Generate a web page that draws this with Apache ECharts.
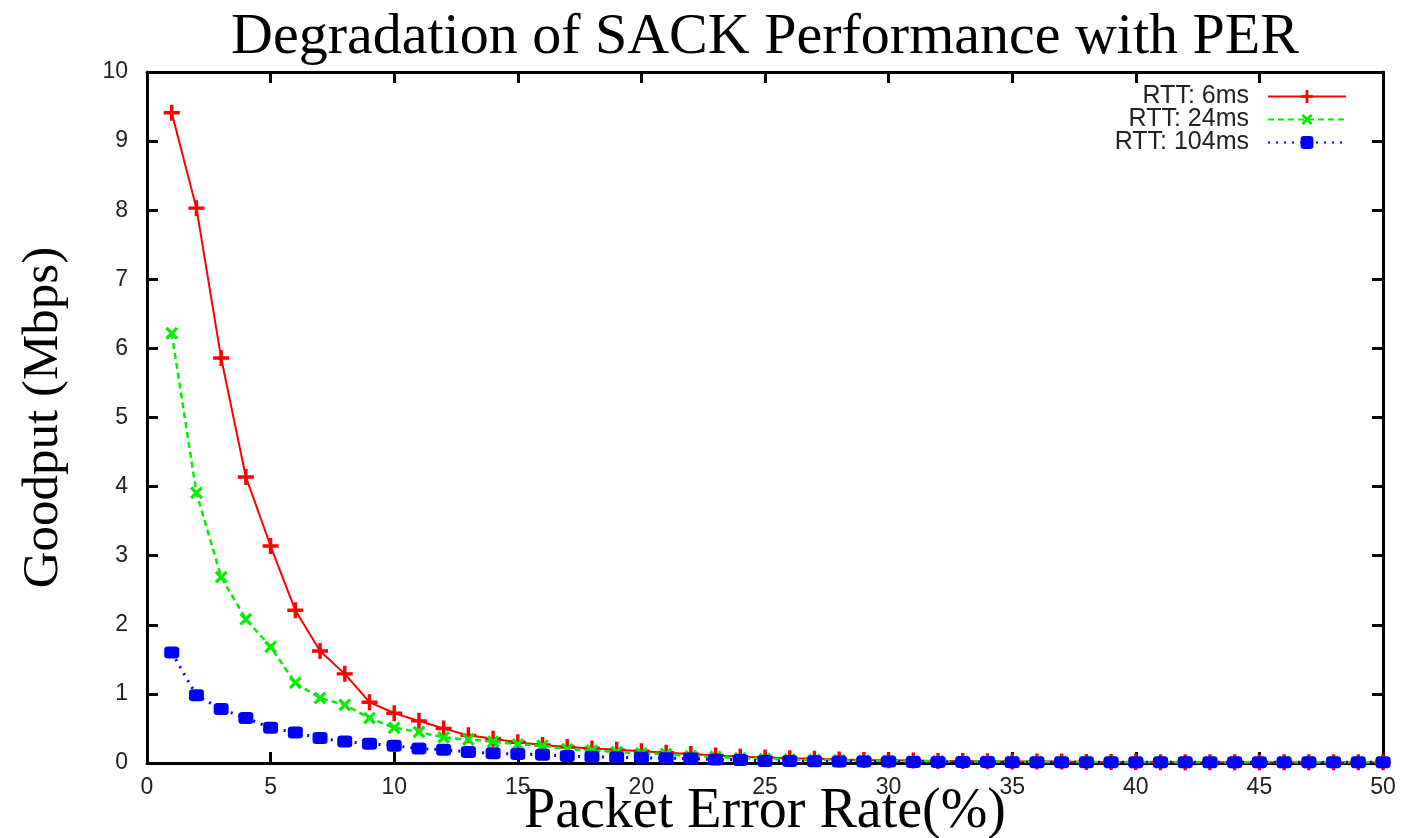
<!DOCTYPE html>
<html>
<head>
<meta charset="utf-8">
<script src="https://cdn.jsdelivr.net/npm/echarts@6/dist/echarts.min.js"></script>
<style>
html,body{margin:0;padding:0;background:#fff;}
#chart{width:1401px;height:838px;}
</style>
</head>
<body>
<div id="chart"></div>
<script>
// Packet error rate (%) values on the x axis
const per = [1,2,3,4,5,6,7,8,9,10,11,12,13,14,15,16,17,18,19,20,21,22,23,24,25,26,27,28,29,30,31,32,33,34,35,36,37,38,39,40,41,42,43,44,45,46,47,48,49,50];
// Goodput (Mbps), RTT 6 ms
const rtt6 = [9.41,8.03,5.86,4.14,3.14,2.21,1.62,1.29,0.88,0.72,0.61,0.50,0.40,0.35,0.30,0.26,0.23,0.21,0.19,0.17,0.15,0.13,0.11,0.09,0.08,0.07,0.06,0.05,0.045,0.04,0.035,0.03,0.03,0.025,0.02,0.02,0.02,0.015,0.015,0.015,0.01,0.01,0.01,0.01,0.01,0.01,0.01,0.01,0.01,0.01];
// Goodput (Mbps), RTT 24 ms
const rtt24 = [6.22,3.91,2.69,2.08,1.68,1.16,0.94,0.84,0.65,0.51,0.45,0.37,0.34,0.31,0.27,0.25,0.20,0.18,0.16,0.14,0.13,0.10,0.09,0.07,0.06,0.05,0.045,0.04,0.035,0.03,0.025,0.025,0.02,0.02,0.02,0.015,0.015,0.015,0.01,0.01,0.01,0.01,0.01,0.01,0.01,0.01,0.01,0.01,0.01,0.01];
// Goodput (Mbps), RTT 104 ms
const rtt104 = [1.60,0.98,0.78,0.65,0.51,0.44,0.36,0.31,0.28,0.25,0.21,0.19,0.16,0.14,0.13,0.12,0.10,0.09,0.085,0.075,0.07,0.065,0.05,0.045,0.03,0.03,0.025,0.02,0.02,0.02,0.015,0.015,0.015,0.015,0.01,0.01,0.01,0.01,0.01,0.01,0.01,0.01,0.01,0.01,0.01,0.01,0.01,0.01,0.01,0.01];

const seriesNames = ['RTT: 6ms','RTT: 24ms','RTT: 104ms'];
const xTicks = {min:0, max:50, interval:5};
const yTicks = {min:0, max:10, interval:1};

const pairs = ys => per.map((x,i)=>[x, ys[i]]);
const plusPath = 'path://M5.5,0H8.5V5.5H14V8.5H8.5V14H5.5V8.5H0V5.5H5.5Z';

const axisLine = {show:true, onZero:false, lineStyle:{color:'#000', width:3}};
const axisTick = {show:true, inside:true, length:11, lineStyle:{color:'#000', width:3}};
const tickFont = {fontFamily:'Liberation Sans', fontSize:23, color:'#222'};

const chart = echarts.init(document.getElementById('chart'), null, {renderer:'canvas'});
chart.setOption({
  backgroundColor:'#fff',
  animation:false,
  title:{
    text:'Degradation of SACK Performance with PER',
    left:226, top:4,
    textStyle:{fontFamily:'Liberation Serif', fontWeight:'normal', fontSize:58, color:'#000'}
  },
  legend:{
    orient:'vertical', right:49, top:79, align:'right',
    itemWidth:78, itemHeight:16, itemGap:-2,
    textStyle:{fontFamily:'Liberation Sans', fontSize:25, lineHeight:20, color:'#222', padding:[0,14,0,0]},
    data:seriesNames
  },
  grid:{left:147, right:18, top:72, bottom:75, containLabel:false, outerBoundsMode:'none'},
  xAxis:[
    {type:'value', position:'bottom', min:xTicks.min, max:xTicks.max, interval:xTicks.interval,
     axisLine:axisLine, axisTick:axisTick, splitLine:{show:false},
     axisLabel:Object.assign({margin:13}, tickFont),
     name:'Packet Error Rate(%)', nameLocation:'middle', nameGap:21, nameMoveOverlap:false,
     nameTextStyle:{fontFamily:'Liberation Serif', fontSize:56, color:'#000', verticalAlign:'top'}},
    {type:'value', position:'top', min:xTicks.min, max:xTicks.max, interval:xTicks.interval,
     axisLine:axisLine, axisTick:axisTick, splitLine:{show:false}, axisLabel:{show:false}}
  ],
  yAxis:[
    {type:'value', position:'left', min:yTicks.min, max:yTicks.max, interval:yTicks.interval,
     axisLine:axisLine, axisTick:axisTick, splitLine:{show:false},
     axisLabel:Object.assign({margin:19}, tickFont),
     name:'Goodput (Mbps)', nameLocation:'middle', nameGap:78, nameMoveOverlap:false,
     nameTextStyle:{fontFamily:'Liberation Serif', fontSize:51, color:'#000'}},
    {type:'value', position:'right', min:yTicks.min, max:yTicks.max, interval:yTicks.interval,
     axisLine:axisLine, axisTick:axisTick, splitLine:{show:false}, axisLabel:{show:false}}
  ],
  series:[
    {name:seriesNames[0], type:'line', data:pairs(rtt6), color:'#ff0000',
     symbol:plusPath, symbolSize:16, showSymbol:true,
     lineStyle:{color:'#ff0000', width:2, type:'solid'},
     itemStyle:{color:'#ff0000'}, z:2},
    {name:seriesNames[1], type:'line', data:pairs(rtt24), color:'#00ee00',
     symbol:plusPath, symbolSize:15, symbolRotate:45, showSymbol:true,
     lineStyle:{color:'#00ee00', width:2.5, type:[6,4]},
     itemStyle:{color:'#00ee00'}, z:3},
    {name:seriesNames[2], type:'line', data:pairs(rtt104), color:'#0000ff',
     symbol:'roundRect', symbolSize:[15,12], showSymbol:true,
     lineStyle:{color:'#0000ff', width:3, type:[2,6]},
     itemStyle:{color:'#0000ff'}, z:4}
  ]
});
</script>
</body>
</html>
